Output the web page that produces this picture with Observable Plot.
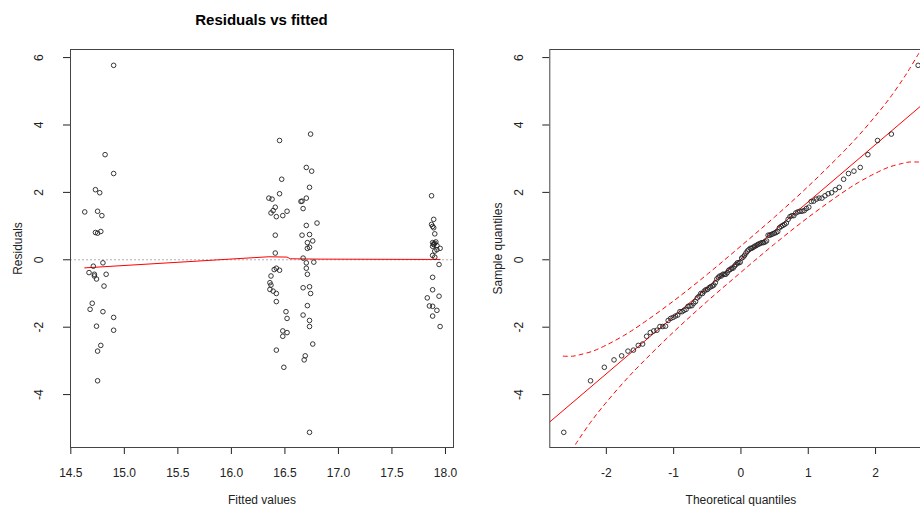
<!DOCTYPE html>
<html><head><meta charset="utf-8">
<script src="https://cdn.jsdelivr.net/npm/d3@7"></script>
<script src="https://cdn.jsdelivr.net/npm/@observablehq/plot@0.6"></script>
<style>
html,body{margin:0;padding:0;background:#fff;overflow:hidden;width:920px;height:506px;}
#wrap{position:relative;width:920px;height:506px;overflow:hidden;font-family:"Liberation Sans",Arial,sans-serif;}
.panel{position:absolute;top:0;}
.panel svg{max-width:none !important;display:block;}
#title{position:absolute;z-index:5;left:70px;width:383px;top:12px;line-height:15px;text-align:center;font-weight:bold;font-size:15px;color:#000;}
</style></head><body>
<div id="wrap"><div class="panel" id="p1" style="left:0;width:460px"></div><div class="panel" id="p2" style="left:460px;width:480px"></div><div id="title">Residuals vs fitted</div></div>
<script>
// ---- data ----
const fittedValues = [
 14.90,14.82,14.90,14.73,14.77,14.63,14.75,14.79,14.73,14.75,14.78,
 14.71,14.80,14.67,14.72,14.72,14.83,14.74,14.81,14.70,14.68,14.80,14.90,14.74,14.90,14.78,14.75,14.75,
 16.74,16.45,16.70,16.75,16.47,16.73,16.45,16.35,16.38,16.70,16.65,16.66,16.67,16.41,16.39,16.37,16.52,16.42,16.48,16.80,16.70,16.41,16.66,16.73,16.76,16.71,16.71,16.73,16.41,16.67,
 16.70,16.77,16.70,16.40,16.42,16.45,16.71,16.37,
 16.36,16.37,16.36,16.39,16.42,16.67,16.73,16.74,16.42,16.71,16.51,16.52,16.67,16.73,16.73,16.48,16.52,16.48,16.76,16.42,16.69,16.68,16.49,16.73,
 17.87,17.89,17.87,17.88,17.89,17.90,17.88,17.91,17.89,17.92,17.95,17.92,17.90,17.88,17.90,17.94,17.88,17.88,17.94,17.83,17.85,17.88,17.92,17.88,17.95,
 17.89,17.90,17.88
];
const residualValues = [
 5.77,3.12,2.56,2.08,1.99,1.42,1.44,1.31,0.81,0.79,0.84,
 -0.19,-0.09,-0.38,-0.43,-0.48,-0.43,-0.57,-0.78,-1.29,-1.47,-1.54,-1.71,-1.97,-2.09,-2.54,-2.71,-3.59,
 3.73,3.54,2.74,2.63,2.39,2.15,1.96,1.83,1.80,1.83,1.73,1.74,1.52,1.56,1.46,1.39,1.44,1.28,1.31,1.09,1.02,0.73,0.73,0.75,0.56,0.51,0.34,0.37,0.20,0.05,
 -0.09,-0.07,-0.25,-0.29,-0.25,-0.31,-0.43,-0.48,
 -0.68,-0.75,-0.88,-0.93,-1.00,-0.83,-0.80,-1.00,-1.24,-1.36,-1.54,-1.74,-1.64,-1.80,-1.98,-2.11,-2.16,-2.27,-2.50,-2.68,-2.85,-2.97,-3.19,-5.12,
 1.90,1.20,1.05,0.99,0.95,0.77,0.51,0.53,0.47,0.42,0.34,0.30,0.26,0.13,0.08,-0.14,-0.52,-0.89,-1.08,-1.13,-1.37,-1.38,-1.50,-1.67,-1.98,
 0.45,0.49,0.40
];
const lowessFitted = [14.63,15.52,16.35,16.52,16.55,16.81,17.83,17.95];
const lowessResid  = [-0.24,-0.07,0.09,0.08,0.03,0.02,0.01,0.01];

const fittedTicks = [14.5,15,15.5,16,16.5,17,17.5,18];
const fittedTickLabels = ["14.5","15.0","15.5","16.0","16.5","17.0","17.5","18.0"];
const yTicks = [-4,-2,0,2,4,6];
const yTickLabels = ["-4","-2","0","2","4","6"];
const qqTicks = [-2,-1,0,1,2];
const qqTickLabels = ["-2","-1","0","1","2"];

const qqLineZ = [-2.84, 2.84];
const qqLineY = [-4.81, 4.85];
const envZ     = [-2.64,-2.5,-2.4,-2.2,-2.0,-1.75,-1.5,-1.0,-0.5,0,0.5,1.0,1.5,1.75,2.0,2.2,2.4,2.5,2.64];
const envUpper = [-2.86,-2.86,-2.82,-2.71,-2.53,-2.26,-1.94,-1.22,-0.43,0.41,1.27,2.18,3.16,3.69,4.27,4.77,5.34,5.65,6.12];
const envLower = [-6.08,-5.61,-5.30,-4.73,-4.23,-3.65,-3.12,-2.14,-1.23,-0.37,0.47,1.26,1.98,2.30,2.57,2.75,2.86,2.90,2.90];

// ---- helpers ----
function qnorm(p){
 const a=[-3.969683028665376e+01,2.209460984245205e+02,-2.759285104469687e+02,1.383577518672690e+02,-3.066479806614716e+01,2.506628277459239e+00];
 const b=[-5.447609879822406e+01,1.615858368580409e+02,-1.556989798598866e+02,6.680131188771972e+01,-1.328068155288572e+01];
 const c=[-7.784894002430293e-03,-3.223964580411365e-01,-2.400758277161838e+00,-2.549732539343734e+00,4.374664141464968e+00,2.938163982698783e+00];
 const d=[7.784695709041462e-03,3.224671290700398e-01,2.445134137142996e+00,3.754408661907416e+00];
 const pl=0.02425, ph=1-pl; let q,r;
 if(p<pl){q=Math.sqrt(-2*Math.log(p));return (((((c[0]*q+c[1])*q+c[2])*q+c[3])*q+c[4])*q+c[5])/((((d[0]*q+d[1])*q+d[2])*q+d[3])*q+1);}
 if(p<=ph){q=p-0.5;r=q*q;return (((((a[0]*r+a[1])*r+a[2])*r+a[3])*r+a[4])*r+a[5])*q/(((((b[0]*r+b[1])*r+b[2])*r+b[3])*r+b[4])*r+1);}
 q=Math.sqrt(-2*Math.log(1-p));return -(((((c[0]*q+c[1])*q+c[2])*q+c[3])*q+c[4])*q+c[5])/((((d[0]*q+d[1])*q+d[2])*q+d[3])*q+1);
}

const points = fittedValues.map((f,i)=>({f, r: residualValues[i]}));
const lowess = lowessFitted.map((f,i)=>({f, r: lowessResid[i]}));
const sorted = residualValues.slice().sort((a,b)=>a-b);
const n = sorted.length;
const qq = sorted.map((v,i)=>({z: qnorm((i+1-0.5)/n), s: v}));
const qqLine = qqLineZ.map((z,i)=>({z, y: qqLineY[i]}));
const env = envZ.map((z,i)=>({z, up: envUpper[i], lo: envLower[i]}));

const font = "'Liberation Sans', Arial, sans-serif";
const baseStyle = {fontFamily: font, fontSize: "12px", color: "#222", background: "transparent", overflow: "visible"};
const yDomain = [-5.57, 6.24];

function yLabels(dx){
  return Plot.text(yTicks, {y: d=>d, text: (d,i)=>yTickLabels[i], frameAnchor: "left", dx, rotate: -90, textAnchor: "middle", lineAnchor: "middle", fill: "#222"});
}

const left = Plot.plot({
  width: 460, height: 506,
  marginLeft: 70, marginRight: 7, marginTop: 49, marginBottom: 59,
  style: baseStyle,
  x: {domain: [14.497, 18.075], ticks: fittedTicks, tickFormat: (d,i)=>fittedTickLabels[i], tickSize: 7, tickPadding: 14, label: null},
  y: {domain: yDomain, ticks: yTicks, tickSize: 7, tickFormat: ()=>"", label: null},
  marks: [
    Plot.ruleY([0], {stroke: "#b0b0b0", strokeDasharray: "2,2"}),
    Plot.line(lowess, {x: "f", y: "r", stroke: "#ff0000", strokeWidth: 1}),
    Plot.dot(points, {x: "f", y: "r", r: 2.3, stroke: "#222", strokeWidth: 0.9}),
    Plot.frame({stroke: "#444"}),
    yLabels(-31),
    Plot.text(["Fitted values"], {frameAnchor: "bottom", dy: 52.5, textAnchor: "middle", lineAnchor: "middle", fill: "#222"}),
    Plot.text(["Residuals"], {frameAnchor: "left", dx: -52, rotate: -90, textAnchor: "middle", lineAnchor: "middle", fill: "#222"})
  ]
});
document.getElementById("p1").appendChild(left);

const right = Plot.plot({
  width: 480, height: 506,
  marginLeft: 89.3, marginRight: 8.4, marginTop: 49, marginBottom: 59,
  style: baseStyle,
  x: {domain: [-2.84, 2.84], ticks: qqTicks, tickFormat: (d,i)=>qqTickLabels[i], tickSize: 7, tickPadding: 14, label: null},
  y: {domain: yDomain, ticks: yTicks, tickSize: 7, tickFormat: ()=>"", label: null},
  marks: [
    Plot.line(qqLine, {x: "z", y: "y", stroke: "#ff0000", strokeWidth: 1, clip: true}),
    Plot.line(env, {x: "z", y: "up", stroke: "#ff0000", strokeWidth: 1, strokeDasharray: "4,4", curve: "catmull-rom", clip: true}),
    Plot.line(env, {x: "z", y: "lo", stroke: "#ff0000", strokeWidth: 1, strokeDasharray: "4,4", curve: "catmull-rom", clip: true}),
    Plot.dot(qq, {x: "z", y: "s", r: 2.3, stroke: "#222", strokeWidth: 0.9}),
    Plot.frame({stroke: "#444"}),
    yLabels(-31),
    Plot.text(["Theoretical quantiles"], {frameAnchor: "bottom", dy: 52.5, textAnchor: "middle", lineAnchor: "middle", fill: "#222"}),
    Plot.text(["Sample quantiles"], {frameAnchor: "left", dx: -52, rotate: -90, textAnchor: "middle", lineAnchor: "middle", fill: "#222"})
  ]
});
document.getElementById("p2").appendChild(right);
</script>
</body></html>
